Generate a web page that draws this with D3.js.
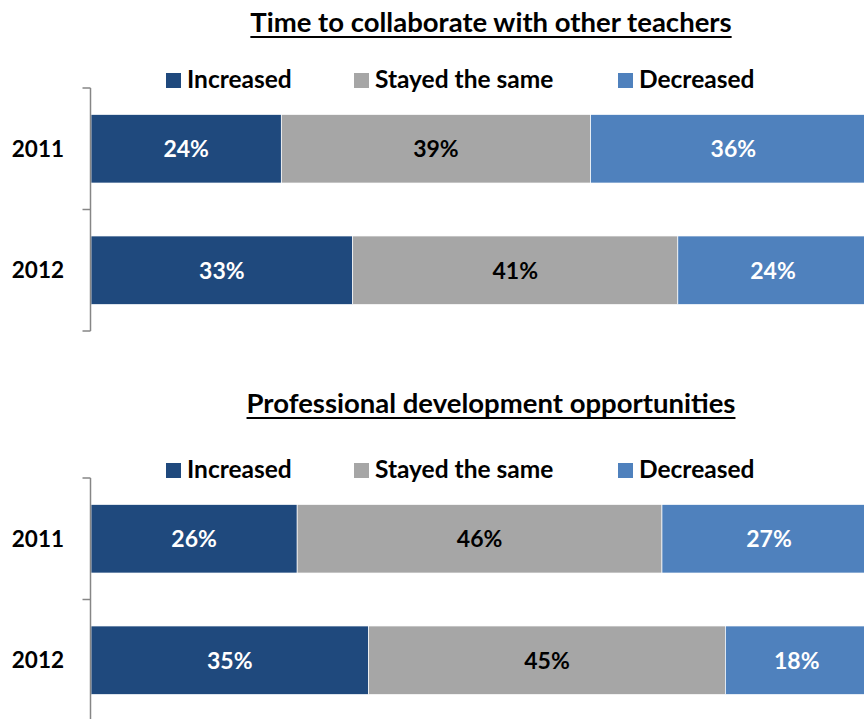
<!DOCTYPE html>
<html>
<head>
<meta charset="utf-8">
<script src="https://cdn.jsdelivr.net/npm/d3@7"></script>
<style>
  body { margin: 0; background: #fff; }
  svg { display: block; font-family: Lato, "Open Sans", sans-serif; font-weight: bold; }
</style>
</head>
<body>
<script>
var years = ['2011', '2012'];
var seriesNames = ['Increased', 'Stayed the same', 'Decreased'];
var seriesColors = ['#1F497D', '#A6A6A6', '#4F81BD'];
var labelColors = ['#fff', '#000', '#fff'];

var collabTitle = 'Time to collaborate with other teachers';
var collabValues = [[24, 39, 36], [33, 41, 24]];

var profDevTitle = 'Professional development opportunities';
var profDevValues = [[26, 46, 27], [35, 45, 18]];

var width = 864, height = 719;

var svg = d3.select('body').append('svg')
  .attr('width', width)
  .attr('height', height);

var x = d3.scaleLinear().domain([0, 100]).range([91, 884]);

function drawPanel(title, values, top, titleY) {
  var g = svg.append('g').attr('transform', 'translate(0,' + top + ')');

  // title, underlined
  var t = g.append('text')
    .attr('x', 491)
    .attr('y', titleY)
    .attr('text-anchor', 'middle')
    .style('font-size', '27.5px')
    .attr('fill', '#000')
    .text(title);
  var bb = t.node().getBBox();
  g.append('line')
    .attr('x1', bb.x).attr('x2', bb.x + bb.width)
    .attr('y1', titleY + 5).attr('y2', titleY + 5)
    .attr('stroke', '#000').attr('stroke-width', 2);

  // legend
  var legendX = [166, 354, 618];
  var leg = g.selectAll('.legend')
    .data(seriesNames)
    .enter()
    .append('g')
    .attr('class', 'legend')
    .attr('transform', function(d, i) { return 'translate(' + legendX[i] + ',73)'; });
  leg.append('rect')
    .attr('width', 15).attr('height', 15)
    .attr('fill', function(d, i) { return seriesColors[i]; });
  leg.append('text')
    .attr('x', 21).attr('y', 15)
    .style('font-size', '24.5px')
    .attr('fill', '#000')
    .text(function(d) { return d; });

  // bars
  var y = d3.scaleBand().domain(years).range([88, 331]).paddingInner(0.436).paddingOuter(0.218);

  var rows = g.selectAll('.row')
    .data(values)
    .enter()
    .append('g')
    .attr('class', 'row')
    .attr('transform', function(d, i) { return 'translate(0,' + y(years[i]) + ')'; });

  rows.each(function(row) {
    var start = 0;
    var segs = row.map(function(v, i) {
      var s = { v: v, i: i, x0: start, x1: start + v };
      start += v;
      return s;
    });
    var r = d3.select(this);
    r.selectAll('rect')
      .data(segs)
      .enter()
      .append('rect')
      .attr('x', function(d) { return x(d.x0); })
      .attr('width', function(d) { return x(d.x1) - x(d.x0); })
      .attr('height', y.bandwidth())
      .attr('fill', function(d) { return seriesColors[d.i]; })
      .attr('stroke', '#fff')
      .attr('stroke-width', 0.7);
    r.selectAll('text')
      .data(segs)
      .enter()
      .append('text')
      .attr('x', function(d) { return (x(d.x0) + x(d.x1)) / 2; })
      .attr('y', y.bandwidth() / 2)
      .attr('dy', '0.36em')
      .attr('text-anchor', 'middle')
      .style('font-size', '23px')
      .attr('fill', function(d) { return labelColors[d.i]; })
      .text(function(d) { return d.v + '%'; });
  });

  // y axis with ticks between categories
  var axisG = g.append('g').attr('transform', 'translate(90.5,0)');
  axisG.append('line')
    .attr('y1', 88).attr('y2', 331)
    .attr('stroke', '#868686').attr('stroke-width', 1.5);
  axisG.selectAll('.tick')
    .data([0, 1, 2])
    .enter()
    .append('line')
    .attr('x1', -8).attr('x2', 0)
    .attr('y1', function(d) { return 88 + d * (331 - 88) / 2; })
    .attr('y2', function(d) { return 88 + d * (331 - 88) / 2; })
    .attr('stroke', '#868686').attr('stroke-width', 1.5);

  g.selectAll('.ylabel')
    .data(years)
    .enter()
    .append('text')
    .attr('x', 64)
    .attr('y', function(d) { return y(d) + y.bandwidth() / 2; })
    .attr('dy', '0.36em')
    .attr('text-anchor', 'end')
    .style('font-size', '22.5px')
    .attr('fill', '#000')
    .text(function(d) { return d; });
}

drawPanel(collabTitle, collabValues, 0, 32);
drawPanel(profDevTitle, profDevValues, 390, 23);
</script>
</body>
</html>
